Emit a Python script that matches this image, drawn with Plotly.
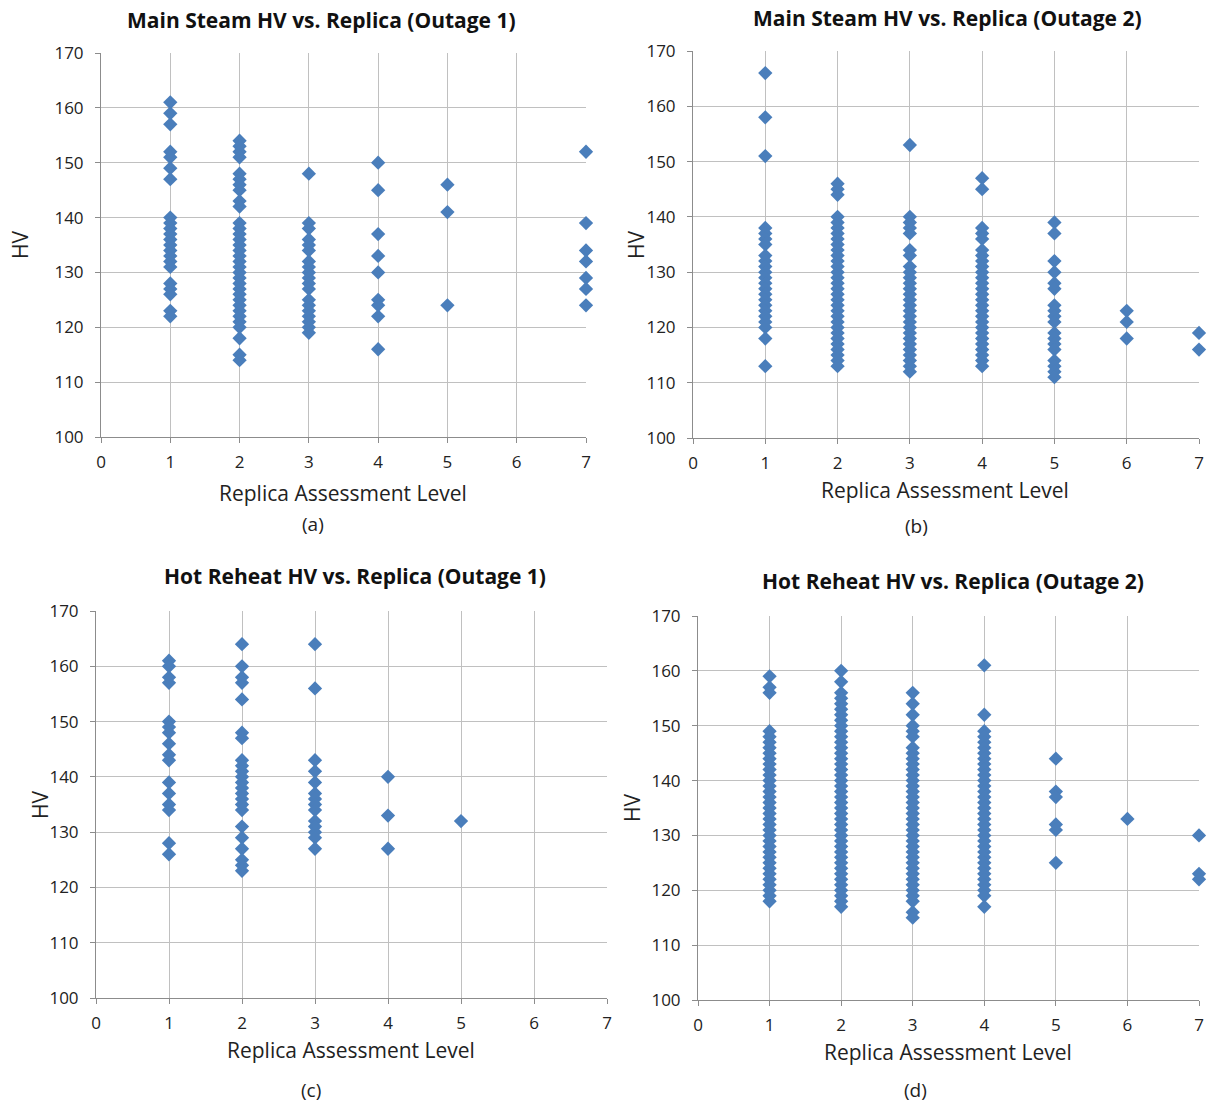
import plotly.graph_objects as go

# ---------------- data (HV readings per Replica Assessment Level) ----------------
levels = [1, 2, 3, 4, 5, 6, 7]
x_ticks = [0, 1, 2, 3, 4, 5, 6, 7]
y_ticks = [100, 110, 120, 130, 140, 150, 160, 170]

# (a) Main Steam, Outage 1
ms1_L1 = [161, 159, 157, 152, 151, 149, 147, 140, 139, 138, 137, 136, 135, 134, 133, 132, 131, 128, 127, 126, 123, 122]
ms1_L2 = [154, 153, 152, 151, 148, 147, 146, 145, 143, 142, 139, 138, 137, 136, 135, 134, 133, 132, 131, 130,
          129, 128, 127, 126, 125, 124, 123, 122, 121, 120, 118, 115, 114]
ms1_L3 = [148, 139, 138, 136, 135, 134, 132, 131, 130, 129, 128, 127, 125, 124, 123, 122, 121, 120, 119]
ms1_L4 = [150, 145, 137, 133, 130, 125, 124, 122, 116]
ms1_L5 = [146, 141, 124]
ms1_L6 = []
ms1_L7 = [152, 139, 134, 132, 129, 127, 124]

# (b) Main Steam, Outage 2
ms2_L1 = [166, 158, 151, 138, 137, 136, 135, 133, 132, 131, 130, 129, 128, 127, 126, 125, 124, 123, 122, 121,
          120, 118, 113]
ms2_L2 = [146, 145, 144, 140, 139, 138, 137, 136, 135, 134, 133, 132, 131, 130, 129, 128, 127, 126, 125, 124,
          123, 122, 121, 120, 119, 118, 117, 116, 115, 114, 113]
ms2_L3 = [153, 140, 139, 138, 137, 134, 133, 131, 130, 129, 128, 127, 126, 125, 124, 123, 122, 121, 120, 119,
          118, 117, 116, 115, 114, 113, 112]
ms2_L4 = [147, 145, 138, 137, 136, 134, 133, 132, 131, 130, 129, 128, 127, 126, 125, 124, 123, 122, 121, 120,
          119, 118, 117, 116, 115, 114, 113]
ms2_L5 = [139, 137, 132, 130, 128, 127, 124, 123, 122, 121, 119, 118, 117, 116, 114, 113, 112, 111]
ms2_L6 = [123, 121, 118]
ms2_L7 = [119, 116]

# (c) Hot Reheat, Outage 1
hr1_L1 = [161, 160, 158, 157, 150, 149, 148, 146, 144, 143, 139, 137, 135, 134, 128, 126]
hr1_L2 = [164, 160, 158, 157, 154, 148, 147, 143, 142, 141, 140, 139, 138, 137, 136, 135, 134, 131, 129, 127,
          125, 124, 123]
hr1_L3 = [164, 156, 143, 141, 139, 137, 136, 135, 134, 132, 131, 130, 129, 127]
hr1_L4 = [140, 133, 127]
hr1_L5 = [132]
hr1_L6 = []
hr1_L7 = []

# (d) Hot Reheat, Outage 2
hr2_L1 = [159, 157, 156, 149, 148, 147, 146, 145, 144, 143, 142, 141, 140, 139, 138, 137, 136, 135, 134, 133,
          132, 131, 130, 129, 128, 127, 126, 125, 124, 123, 122, 121, 120, 119, 118]
hr2_L2 = [160, 158, 156, 155, 154, 153, 152, 151, 150, 149, 148, 147, 146, 145, 144, 143, 142, 141, 140, 139,
          138, 137, 136, 135, 134, 133, 132, 131, 130, 129, 128, 127, 126, 125, 124, 123, 122, 121, 120, 119,
          118, 117]
hr2_L3 = [156, 154, 152, 150, 149, 148, 146, 145, 144, 143, 142, 141, 140, 139, 138, 137, 136, 135, 134, 133,
          132, 131, 130, 129, 128, 127, 126, 125, 124, 123, 122, 121, 120, 119, 118, 116, 115]
hr2_L4 = [161, 152, 149, 148, 147, 146, 145, 144, 143, 142, 141, 140, 139, 138, 137, 136, 135, 134, 133, 132,
          131, 130, 129, 128, 127, 126, 125, 124, 123, 122, 121, 120, 119, 117]
hr2_L5 = [144, 138, 137, 132, 131, 125]
hr2_L6 = [133]
hr2_L7 = [130, 123, 122]

titles = ["Main Steam HV vs. Replica (Outage 1)", "Main Steam HV vs. Replica (Outage 2)",
          "Hot Reheat HV vs. Replica (Outage 1)", "Hot Reheat HV vs. Replica (Outage 2)"]
captions = ["(a)", "(b)", "(c)", "(d)"]
x_title = "Replica Assessment Level"
y_title = "HV"

panel_data = [
    [ms1_L1, ms1_L2, ms1_L3, ms1_L4, ms1_L5, ms1_L6, ms1_L7],
    [ms2_L1, ms2_L2, ms2_L3, ms2_L4, ms2_L5, ms2_L6, ms2_L7],
    [hr1_L1, hr1_L2, hr1_L3, hr1_L4, hr1_L5, hr1_L6, hr1_L7],
    [hr2_L1, hr2_L2, hr2_L3, hr2_L4, hr2_L5, hr2_L6, hr2_L7],
]

# ---------------- layout geometry (screen pixels) ----------------
W, H = 1208, 1104
# plot rect: left, right, top, bottom
rects = [(101, 586, 53, 437), (693, 1199, 51, 438), (96, 607, 611, 998), (698, 1199, 616, 1000)]
title_pos = [(322, 20), (947, 18), (355, 576), (953, 581)]
xtitle_pos = [(343, 493), (945, 490), (351, 1050), (948, 1052)]
cap_pos = [(313, 524), (916, 526), (311, 1090), (915, 1090)]
ytitle_pos = [(20, 245), (636, 245), (40, 805), (632, 808)]


def px(xs):
    return xs / W


def py(ys):
    return 1 - ys / H


FONT = "Open Sans"
MARKER_COLOR = "#4a7ebb"
GRID = "#c0c0c0"
AXIS = "#8c8c8c"

fig = go.Figure()
layout = dict(width=W, height=H, margin=dict(l=0, r=0, t=0, b=0, autoexpand=False),
              paper_bgcolor="white", plot_bgcolor="white", showlegend=False,
              font=dict(family=FONT, color="#000000"))
annotations = []

for i, data in enumerate(panel_data):
    sfx = "" if i == 0 else str(i + 1)
    xs, ys = [], []
    for lvl, vals in zip(levels, data):
        xs += [lvl] * len(vals)
        ys += vals
    fig.add_trace(go.Scatter(x=xs, y=ys, mode="markers", xaxis="x" + sfx, yaxis="y" + sfx,
                             marker=dict(symbol="diamond", size=11, color=MARKER_COLOR,
                                         line=dict(width=0)),
                             cliponaxis=False, hoverinfo="x+y"))
    l, r, t, b = rects[i]
    layout["xaxis" + sfx] = dict(domain=[px(l), px(r)], range=[0, 7], tickvals=x_ticks,
                                 anchor="y" + sfx, showgrid=True, gridcolor=GRID, gridwidth=1,
                                 showline=True, linecolor=AXIS, linewidth=1,
                                 ticks="outside", ticklen=5, tickcolor=AXIS,
                                 ticklabelstandoff=5, automargin=False,
                                 tickfont=dict(size=17, family=FONT, color="#222"),
                                 zeroline=False, fixedrange=True)
    layout["yaxis" + sfx] = dict(domain=[py(b), py(t)], range=[100, 170], tickvals=y_ticks,
                                 anchor="x" + sfx, showgrid=True, gridcolor=GRID, gridwidth=1,
                                 showline=True, linecolor=AXIS, linewidth=1,
                                 ticks="outside", ticklen=5, tickcolor=AXIS,
                                 ticklabelstandoff=8, automargin=False,
                                 tickfont=dict(size=17, family=FONT, color="#222"),
                                 zeroline=False, fixedrange=True)
    tx, ty = title_pos[i]
    annotations.append(dict(text="<b>" + titles[i] + "</b>", x=px(tx), y=py(ty), xref="paper",
                            yref="paper", xanchor="center", yanchor="middle", showarrow=False,
                            font=dict(size=21, family=FONT, color="#111")))
    xx, xy = xtitle_pos[i]
    annotations.append(dict(text=x_title, x=px(xx), y=py(xy), xref="paper", yref="paper",
                            xanchor="center", yanchor="middle", showarrow=False,
                            font=dict(size=21, family=FONT, color="#222")))
    cx, cy = cap_pos[i]
    annotations.append(dict(text=captions[i], x=px(cx), y=py(cy), xref="paper", yref="paper",
                            xanchor="center", yanchor="middle", showarrow=False,
                            font=dict(size=19, family=FONT, color="#222")))
    yx, yy = ytitle_pos[i]
    annotations.append(dict(text=y_title, x=px(yx), y=py(yy), xref="paper", yref="paper",
                            xanchor="center", yanchor="middle", showarrow=False, textangle=-90,
                            font=dict(size=21, family=FONT, color="#222")))

layout["annotations"] = annotations
fig.update_layout(**layout)
fig.write_html("out.html", config={"displayModeBar": False},
               post_script="document.body.style.margin='0';document.body.style.overflow='hidden';")
